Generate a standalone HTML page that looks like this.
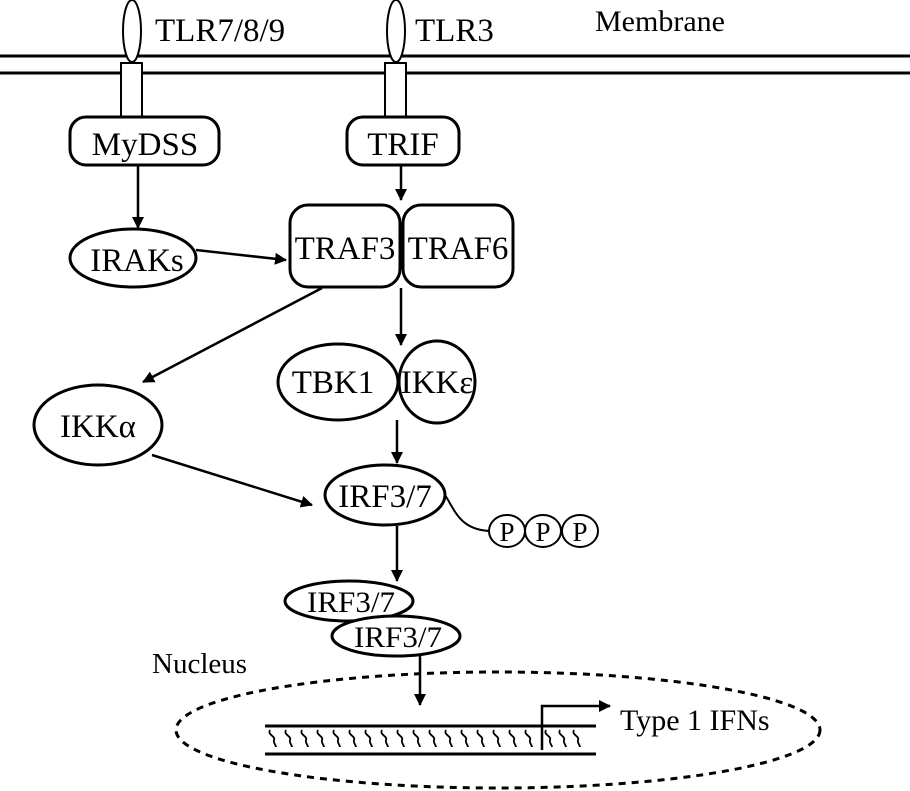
<!DOCTYPE html>
<html><head><meta charset="utf-8"><style>
html,body{margin:0;padding:0;background:#fff}
svg{display:block}
text{font-family:"Liberation Serif",serif;font-size:33px;fill:#000}
</style></head><body>
<svg width="910" height="791" viewBox="0 0 910 791" xmlns="http://www.w3.org/2000/svg">
<defs><marker id="a" markerWidth="12" markerHeight="12" refX="11" refY="6" orient="auto" markerUnits="userSpaceOnUse" viewBox="0 0 12 12"><path d="M0,0 L12,6 L0,12 z" fill="#000"/></marker></defs>
<g stroke="#000" stroke-width="3" fill="none">
<line x1="0" y1="56" x2="910" y2="56"/><line x1="0" y1="73" x2="910" y2="73"/>
</g>
<g stroke="#000" stroke-width="2" fill="#fff">
<ellipse cx="132" cy="31" rx="9" ry="31"/><rect x="121" y="63" width="21" height="54"/>
<ellipse cx="396" cy="31" rx="9" ry="31"/><rect x="385" y="63" width="21" height="54"/>
</g>
<text x="155" y="41">TLR7/8/9</text><text x="415" y="41">TLR3</text><text x="595" y="31" style="font-size:30px">Membrane</text>
<g stroke="#000" stroke-width="3" fill="#fff">
<rect x="70" y="117" width="149" height="48" rx="16"/>
<rect x="347" y="117" width="112" height="48" rx="16"/>
<ellipse cx="133" cy="258" rx="63" ry="29"/>
<rect x="290" y="205" width="110" height="82" rx="18"/>
<rect x="403" y="205" width="110" height="82" rx="18"/>
<ellipse cx="98" cy="425" rx="64" ry="40"/>
<ellipse cx="338" cy="382" rx="60" ry="38"/>
<ellipse cx="437" cy="382" rx="38" ry="41"/>
<ellipse cx="385" cy="495" rx="60" ry="30"/>
<ellipse cx="349" cy="601" rx="64" ry="20"/>
<ellipse cx="396" cy="636" rx="64" ry="20"/>
</g>
<g stroke="#000" stroke-width="2" fill="#fff">
<path d="M445,495 C455,510 460,532 495,531" fill="none"/>
<ellipse cx="507" cy="531" rx="18" ry="16"/><ellipse cx="543" cy="531" rx="18" ry="16"/><ellipse cx="580" cy="531" rx="18" ry="16"/>
</g>
<g stroke="#000" stroke-width="2.5" fill="none" marker-end="url(#a)">
<line x1="138" y1="166" x2="138" y2="228"/>
<line x1="196" y1="250" x2="286" y2="260"/>
<line x1="401" y1="166" x2="401" y2="200"/>
<line x1="322" y1="288" x2="143" y2="382"/>
<line x1="401" y1="288" x2="401" y2="345"/>
<line x1="397" y1="420" x2="397" y2="463"/>
<line x1="152" y1="455" x2="312" y2="505"/>
<line x1="397" y1="526" x2="397" y2="581"/>
<line x1="420" y1="656" x2="420" y2="705"/>
</g>
<ellipse cx="498" cy="730" rx="322" ry="58" stroke="#000" stroke-width="3" fill="none" stroke-dasharray="7,6"/>
<g stroke="#000" stroke-width="3"><line x1="265" y1="726" x2="596" y2="726"/><line x1="265" y1="754" x2="596" y2="754"/></g>
<g stroke="#000" stroke-width="1.8" fill="none">
<path d="M270,730 c-3,5 6,6 4,10 c-1,3 2,5 2,7 M286,730 c-3,5 6,6 4,10 c-1,3 2,5 2,7 M302,730 c-3,5 6,6 4,10 c-1,3 2,5 2,7 M318,730 c-3,5 6,6 4,10 c-1,3 2,5 2,7 M334,730 c-3,5 6,6 4,10 c-1,3 2,5 2,7 M350,730 c-3,5 6,6 4,10 c-1,3 2,5 2,7 M366,730 c-3,5 6,6 4,10 c-1,3 2,5 2,7 M382,730 c-3,5 6,6 4,10 c-1,3 2,5 2,7 M398,730 c-3,5 6,6 4,10 c-1,3 2,5 2,7 M414,730 c-3,5 6,6 4,10 c-1,3 2,5 2,7 M430,730 c-3,5 6,6 4,10 c-1,3 2,5 2,7 M446,730 c-3,5 6,6 4,10 c-1,3 2,5 2,7 M462,730 c-3,5 6,6 4,10 c-1,3 2,5 2,7 M478,730 c-3,5 6,6 4,10 c-1,3 2,5 2,7 M494,730 c-3,5 6,6 4,10 c-1,3 2,5 2,7 M510,730 c-3,5 6,6 4,10 c-1,3 2,5 2,7 M526,730 c-3,5 6,6 4,10 c-1,3 2,5 2,7 M546,730 c-3,5 6,6 4,10 c-1,3 2,5 2,7 M560,730 c-3,5 6,6 4,10 c-1,3 2,5 2,7 M574,730 c-3,5 6,6 4,10 c-1,3 2,5 2,7"/>
</g>
<path d="M542,750 L542,706 L610,706" stroke="#000" stroke-width="2.5" fill="none" marker-end="url(#a)"/>
<g text-anchor="middle">
<text x="145" y="155">MyDSS</text><text x="403" y="155">TRIF</text>
<text x="137" y="271">IRAKs</text>
<text x="345" y="259">TRAF3</text><text x="458" y="259">TRAF6</text>
<text x="98" y="437">IKKα</text>
<text x="333" y="393">TBK1</text><text x="437" y="393">IKKε</text>
<text x="385" y="507">IRF3/7</text>
<text x="351" y="612" style="font-size:30px" textLength="88" lengthAdjust="spacingAndGlyphs">IRF3/7</text>
<text x="398" y="647" style="font-size:30px" textLength="88" lengthAdjust="spacingAndGlyphs">IRF3/7</text>
<text x="507" y="541" style="font-size:27px">P</text><text x="543" y="541" style="font-size:27px">P</text><text x="580" y="541" style="font-size:27px">P</text>
</g>
<text x="152" y="673" style="font-size:29px">Nucleus</text>
<text x="620" y="730" style="font-size:30px">Type 1 IFNs</text>
</svg>
</body></html>
